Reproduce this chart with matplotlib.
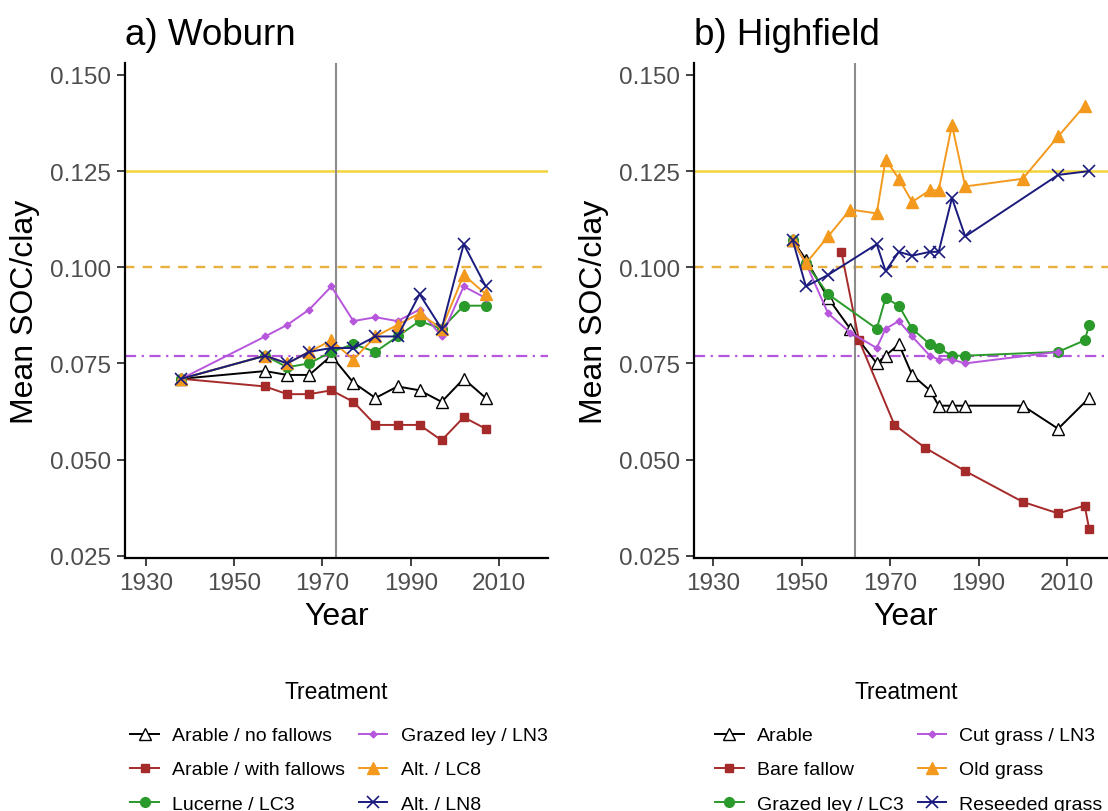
import matplotlib
matplotlib.use("Agg")
import matplotlib.pyplot as plt

plt.rcParams['font.family'] = ['Liberation Sans', 'DejaVu Sans']

# Woburn (all treatments sampled in the same years)
wob_years = [1938, 1957, 1962, 1967, 1972, 1977, 1982, 1987, 1992, 1997, 2002, 2007]
wob_arable = [0.071, 0.073, 0.072, 0.072, 0.077, 0.070, 0.066, 0.069, 0.068, 0.065, 0.071, 0.066]
wob_arable_fallow = [0.071, 0.069, 0.067, 0.067, 0.068, 0.065, 0.059, 0.059, 0.059, 0.055, 0.061, 0.058]
wob_lucerne = [0.071, 0.077, 0.074, 0.075, 0.078, 0.080, 0.078, 0.082, 0.086, 0.084, 0.090, 0.090]
wob_grazed = [0.071, 0.082, 0.085, 0.089, 0.095, 0.086, 0.087, 0.086, 0.089, 0.082, 0.095, 0.092]
wob_lc8 = [0.071, 0.077, 0.075, 0.078, 0.081, 0.076, 0.082, 0.085, 0.088, 0.084, 0.098, 0.093]
wob_ln8 = [0.071, 0.077, 0.075, 0.078, 0.079, 0.079, 0.082, 0.082, 0.093, 0.084, 0.106, 0.095]
wob_labels = ["Arable / no fallows", "Arable / with fallows", "Lucerne / LC3",
              "Grazed ley / LN3", "Alt. / LC8", "Alt. / LN8"]

# Highfield (each treatment has its own sampling years)
hf_arable_years = [1948, 1951, 1956, 1961, 1967, 1969, 1972, 1975, 1979, 1981, 1984, 1987, 2000, 2008, 2015]
hf_arable = [0.107, 0.102, 0.092, 0.084, 0.075, 0.077, 0.080, 0.072, 0.068, 0.064, 0.064, 0.064, 0.064, 0.058, 0.066]
hf_fallow_years = [1959, 1963, 1971, 1978, 1987, 2000, 2008, 2014, 2015]
hf_fallow = [0.104, 0.081, 0.059, 0.053, 0.047, 0.039, 0.036, 0.038, 0.032]
hf_grazed_years = [1948, 1951, 1956, 1967, 1969, 1972, 1975, 1979, 1981, 1984, 1987, 2008, 2014, 2015]
hf_grazed = [0.107, 0.101, 0.093, 0.084, 0.092, 0.090, 0.084, 0.080, 0.079, 0.077, 0.077, 0.078, 0.081, 0.085]
hf_cut_years = [1948, 1951, 1956, 1961, 1967, 1969, 1972, 1975, 1979, 1981, 1984, 1987, 2008]
hf_cut = [0.107, 0.101, 0.088, 0.083, 0.079, 0.084, 0.086, 0.082, 0.077, 0.076, 0.076, 0.075, 0.078]
hf_old_years = [1948, 1951, 1956, 1961, 1967, 1969, 1972, 1975, 1979, 1981, 1984, 1987, 2000, 2008, 2014]
hf_old = [0.107, 0.101, 0.108, 0.115, 0.114, 0.128, 0.123, 0.117, 0.120, 0.120, 0.137, 0.121, 0.123, 0.134, 0.142]
hf_reseed_years = [1948, 1951, 1956, 1967, 1969, 1972, 1975, 1979, 1981, 1984, 1987, 2008, 2015]
hf_reseed = [0.107, 0.095, 0.098, 0.106, 0.099, 0.104, 0.103, 0.104, 0.104, 0.118, 0.108, 0.124, 0.125]
hf_labels = ["Arable", "Bare fallow", "Grazed ley / LC3",
             "Cut grass / LN3", "Old grass", "Reseeded grass"]

# reference levels and the year management changed
thresholds = [0.125, 0.100, 0.077]
change_year = {"wob": 1973, "hf": 1962}

styles = [
    dict(color="black", marker="^", ms=8.5, mfc="white", mec="black", mew=1.0),
    dict(color="#A52A2A", marker="s", ms=6),
    dict(color="#2A9A2A", marker="o", ms=7),
    dict(color="#B656DC", marker="D", ms=3.5),
    dict(color="#F39A1E", marker="^", ms=8),
    dict(color="#1B1B7E", marker="x", ms=8.5, mew=1.2),
]


def draw_panel(ax, series, labels, vline, title, xlim):
    ax.axhline(thresholds[0], color="#F2D43A", lw=1.8, zorder=1)
    ax.axhline(thresholds[1], color="#E8B03C", lw=1.7, dashes=(4, 3.5), zorder=1)
    ax.axhline(thresholds[2], color="#B656DC", lw=1.6, dashes=(5, 2.5, 1, 2.5), zorder=1)
    ax.axvline(vline, color="#8C8C8C", lw=1.5, zorder=1)
    handles = []
    for (x, y), lab, st in zip(series, labels, styles):
        h, = ax.plot(x, y, lw=1.4, label=lab, zorder=3, **st)
        handles.append(h)
    ax.set_xlim(*xlim)
    ax.set_ylim(0.0244, 0.1531)
    ax.set_xticks([1930, 1950, 1970, 1990, 2010])
    ax.set_yticks([0.025, 0.050, 0.075, 0.100, 0.125, 0.150])
    ax.set_yticklabels([f"{v:.3f}" for v in ax.get_yticks()])
    for s in ["top", "right"]:
        ax.spines[s].set_visible(False)
    for s in ["left", "bottom"]:
        ax.spines[s].set_linewidth(1.6)
    ax.tick_params(length=6, width=1.3, color="#333333", labelcolor="#4D4D4D",
                   labelsize=17.5, pad=4)
    ax.set_xlabel("Year", fontsize=23, labelpad=5)
    ax.set_ylabel("Mean SOC/clay", fontsize=23, labelpad=7)
    ax.set_title(title, loc="left", fontsize=26.5, pad=14)
    return handles


fig = plt.figure(figsize=(11.08, 8.12), dpi=100)
ax1 = fig.add_axes([125 / 1108, 253 / 812, 423 / 1108, 495 / 812])
ax2 = fig.add_axes([694 / 1108, 253 / 812, 423 / 1108, 495 / 812])

wob_series = [(wob_years, v) for v in
              [wob_arable, wob_arable_fallow, wob_lucerne, wob_grazed, wob_lc8, wob_ln8]]
hf_series = [(hf_arable_years, hf_arable), (hf_fallow_years, hf_fallow),
             (hf_grazed_years, hf_grazed), (hf_cut_years, hf_cut),
             (hf_old_years, hf_old), (hf_reseed_years, hf_reseed)]

h1 = draw_panel(ax1, wob_series, wob_labels, change_year["wob"], "a) Woburn", (1925.25, 2021.1))
h2 = draw_panel(ax2, hf_series, hf_labels, change_year["hf"], "b) Highfield", (1925.7, 2021.3))

leg_kw = dict(ncol=2, frameon=False, fontsize=14,
              handlelength=1.45, handletextpad=0.7, columnspacing=0.7, labelspacing=0.85,
              borderpad=0, loc="upper center", bbox_transform=fig.transFigure)
for handles, cx in [(h1, 339), (h2, 909)]:
    fig.legend(handles=handles, bbox_to_anchor=(cx / 1108, 1 - 718 / 812), **leg_kw)
    fig.text((cx - 3) / 1108, 1 - 693 / 812, "Treatment", fontsize=16.5,
             ha="center", va="center")

fig.savefig("out.png", dpi=100)
